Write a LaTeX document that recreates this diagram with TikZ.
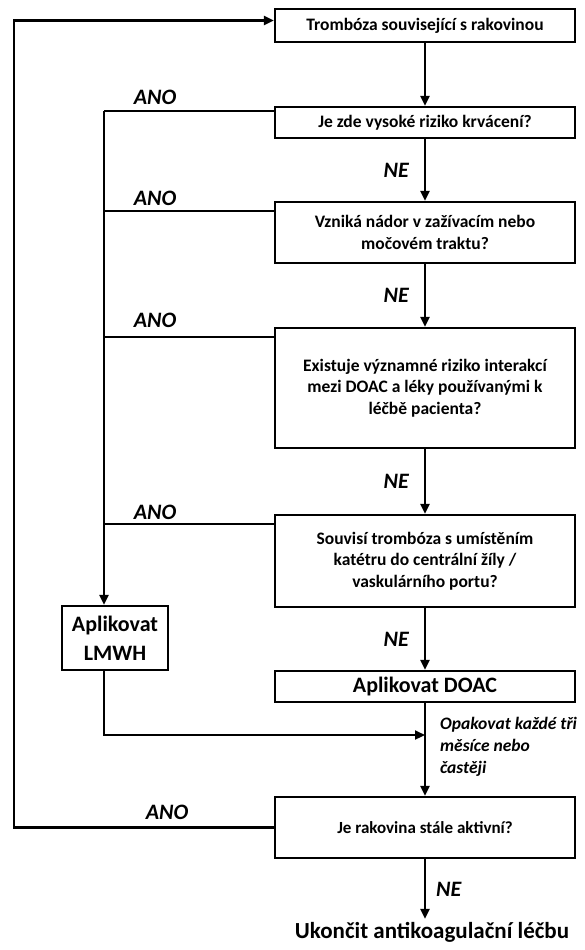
\documentclass[tikz,border=0pt]{standalone}
\usepackage{fontspec}
\setmainfont{Carlito}
\usetikzlibrary{arrows.meta}
\begin{document}
\begin{tikzpicture}[x=1pt, y=-1pt, line width=2.2pt,
        >={Triangle[length=10pt,width=9pt]},
        otazka/.style={draw, minimum width=300pt, inner sep=2pt, align=center,
            font=\bfseries\fontsize{17.5}{21.5}\selectfont},
        akce/.style={draw, inner sep=2pt, align=center,
            font=\bfseries\fontsize{22}{29}\selectfont},
        odpoved/.style={inner sep=0pt, font=\bfseries\itshape\fontsize{22}{22}\selectfont},
        poznamka/.style={inner sep=0pt, align=left,
            font=\bfseries\itshape\fontsize{17.5}{22}\selectfont}]
        \useasboundingbox (0,0) rectangle (585,950);

        % Otázky
        \node[otazka, minimum height=33pt] (b1) at (425,25.5) {Trombóza související s rakovinou};
        \node[otazka, minimum height=31pt] (b2) at (425,122.5) {Je zde vysoké riziko krvácení?};
        \node[otazka, minimum height=61pt] (b3) at (425,232.5) {Vzniká nádor v zažívacím nebo\\močovém traktu?};
        \node[otazka, minimum height=120pt] (b4) at (425,388) {Existuje významné riziko interakcí\\mezi DOAC a léky používanými k\\léčbě pacienta?};
        \node[otazka, minimum height=92pt] (b5) at (425,561) {Souvisí trombóza s umístěním\\katétru do centrální žíly /\\vaskulárního portu?};

        % Léčba
        \node[akce, minimum width=106pt, minimum height=64pt] (lmwh) at (115,638) {Aplikovat\\LMWH};
        \node[akce, minimum width=300pt, minimum height=31pt] (doac) at (425,686.5) {Aplikovat DOAC};
        \node[poznamka, anchor=west] (pozn) at (439,747) {Opakovat každé tři\\měsíce nebo\\častěji};

        \node[otazka, minimum height=61pt, font=\bfseries\fontsize{17}{18}\selectfont] (b6) at (425,827.5) {Je rakovina stále aktivní?};
        \node[inner sep=2pt, font=\bfseries\fontsize{23}{24}\selectfont] (konec) at (432,932) {Ukončit antikoagulační léčbu};

        % Větev NE
        \draw[->] (b1) -- (b2);
        \draw[->] (b2) -- node[odpoved, left=15pt] (ne1) {NE} (b3);
        \draw[->] (b3) -- node[odpoved, left=15pt] (ne2) {NE} (b4);
        \draw[->] (b4) -- node[odpoved, left=15pt] (ne3) {NE} (b5);
        \draw[->] (b5) -- node[odpoved, left=15pt] (ne4) {NE} (doac);
        \draw[->] (doac) -- (b6);
        \draw[->] (b6) -- node[odpoved, right=10pt] (ne5) {NE} (b6 |- konec.north);

        % Větev ANO
        \coordinate (vnitrni) at (104,0);
        \coordinate (vnejsi) at (14,0);
        \coordinate (spoj) at (425,735);
        \coordinate (a2) at ([yshift=-5pt]b2.north west);
        \coordinate (a3) at ([yshift=-10pt]b3.north west);
        \coordinate (a4) at ([yshift=-10pt]b4.north west);
        \coordinate (a5) at ([yshift=-10pt]b5.north west);
        \draw (a2) -- (a2 -| vnitrni);
        \draw (a3) -- (a3 -| vnitrni);
        \draw (a4) -- (a4 -| vnitrni);
        \draw (a5) -- (a5 -| vnitrni);
        \draw[->] (a2 -| vnitrni) -- (vnitrni |- lmwh.north);
        \draw[->] (vnitrni |- lmwh.south) |- (spoj);
        \draw[->] (b6.west) -- (b6.west -| vnejsi) |- ([yshift=5pt]b1.west);

        \node[odpoved] (ano1) at (155,97) {ANO};
        \node[odpoved] (ano2) at (155,198) {ANO};
        \node[odpoved] (ano3) at (155,320) {ANO};
        \node[odpoved] (ano4) at (155,512) {ANO};
        \node[odpoved] (ano5) at (167,812) {ANO};
\end{tikzpicture}
\end{document}
